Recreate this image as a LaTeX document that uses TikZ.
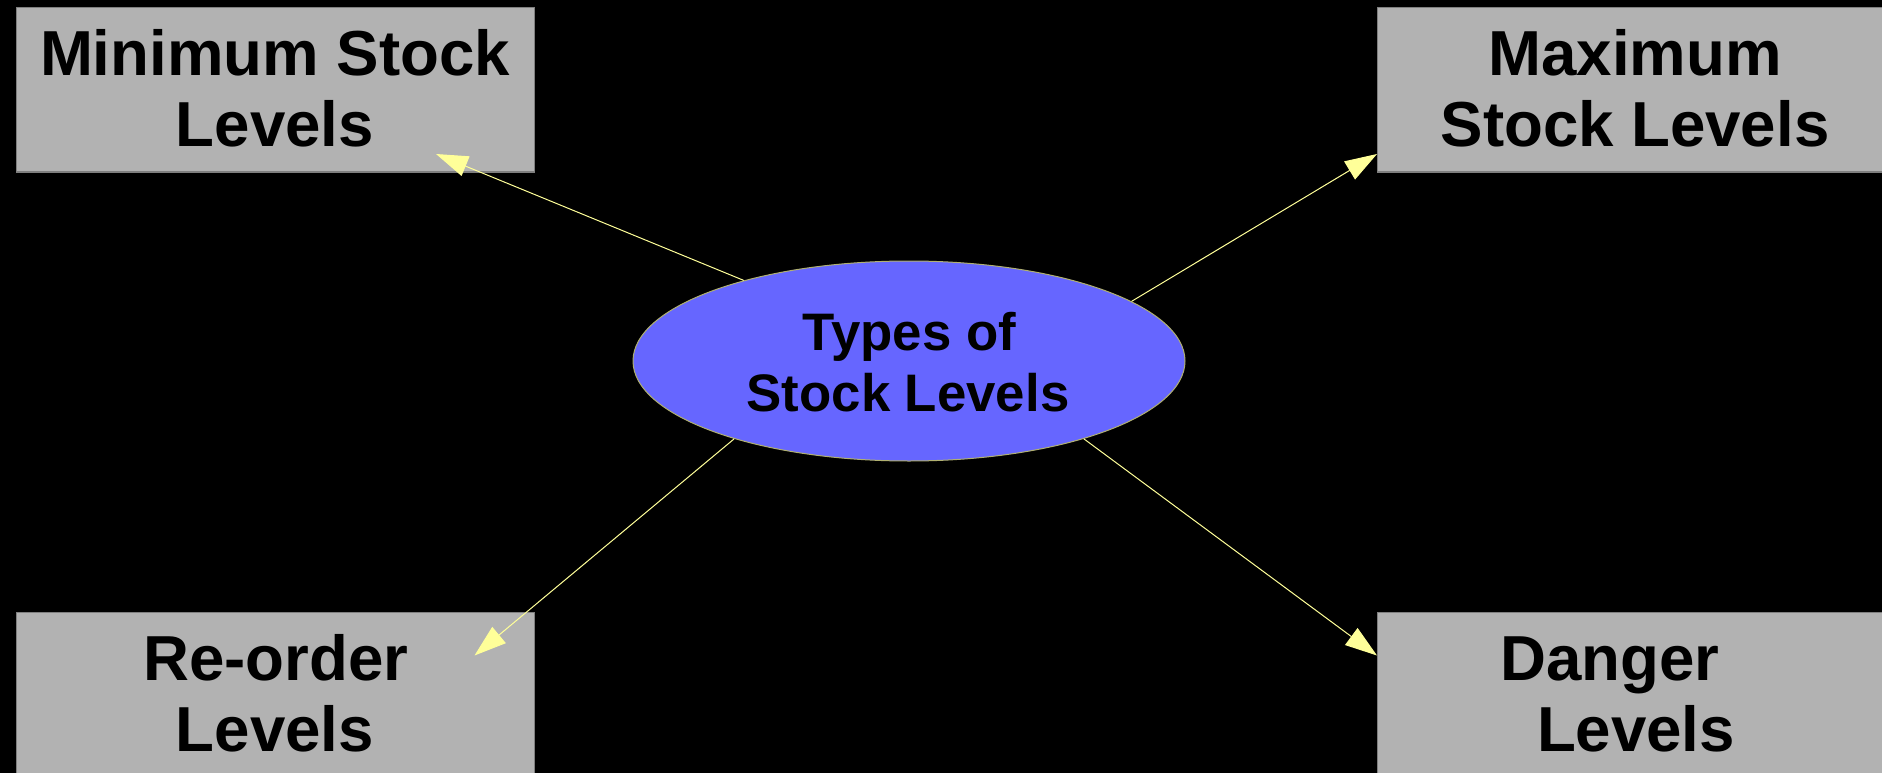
\documentclass[tikz,border=0pt]{standalone}
\usepackage{fontspec}
\setmainfont{Liberation Sans}
\usetikzlibrary{shapes.geometric,arrows.meta}
\definecolor{boxgray}{HTML}{B2B2B2}
\definecolor{boxedge}{HTML}{7F7F7F}
\definecolor{ellblue}{HTML}{6666FF}
\definecolor{elledge}{HTML}{B0B070}
\definecolor{arrowyellow}{HTML}{FFFF99}
\begin{document}
\begin{tikzpicture}[x=1pt,y=-1pt,
  levelbox/.style={draw=boxedge,line width=1.5pt,fill=boxgray,rectangle,
    minimum width=518pt,minimum height=164pt,inner sep=0pt,anchor=north west},
  centerell/.style={ellipse,draw=elledge,line width=1pt,fill=ellblue,
    minimum width=552pt,minimum height=200pt,inner sep=0pt},
  bigtext/.style={anchor=base,inner sep=0pt,
    font=\fontsize{63.6pt}{71pt}\selectfont\bfseries},
  midtext/.style={anchor=base,inner sep=0pt,
    font=\fontsize{52.8pt}{60pt}\selectfont\bfseries},
  conn/.style={draw=arrowyellow,line width=1pt,
    -{Triangle[length=32pt,width=21pt,fill=arrowyellow]}}]
\useasboundingbox (0,0) rectangle (1882,773);
\clip (0,0) rectangle (1882,773);
\fill[black] (0,0) rectangle (1882,773);
% boxes
\node[levelbox] (minbox) at (15.5,7) {};
\node[levelbox] (maxbox) at (1376.5,7) {};
\node[levelbox] (rebox) at (15.5,611.5) {};
\node[levelbox] (danbox) at (1376.5,611.5) {};
% centre ellipse
\node[centerell] (types) at (909,361) {};
% arrow tips
\coordinate (tipmin) at (436,154);
\coordinate (tipmax) at (1377,154);
\coordinate (tipre) at (474.5,655.5);
\coordinate (tipdan) at (1377,655.5);
\draw[conn] (types.154.6) -- (tipmin);
\draw[conn] (types.15.8) -- (tipmax);
\draw[conn] (types.204.6) -- (tipre);
\draw[conn] (types.336.6) -- (tipdan);
% texts
\node[bigtext] (min1) at (275,75.6) {Minimum Stock};
\node[bigtext] (min2) at (275,146.4) {Levels};
\node[bigtext] (max1) at (1635,75.6) {Maximum};
\node[bigtext] (max2) at (1635,146.4) {Stock Levels};
\node[bigtext] (re1) at (276,680.6) {Re-order};
\node[bigtext] (re2) at (275,751.4) {Levels};
\node[bigtext] (dan1) at (1610,680.6) {Danger};
\node[bigtext] (dan2) at (1636,751.4) {Levels};
\node[midtext] (typ1) at (909.5,350.5) {Types of};
\node[midtext] (typ2) at (908,411) {Stock Levels};
\end{tikzpicture}
\end{document}
